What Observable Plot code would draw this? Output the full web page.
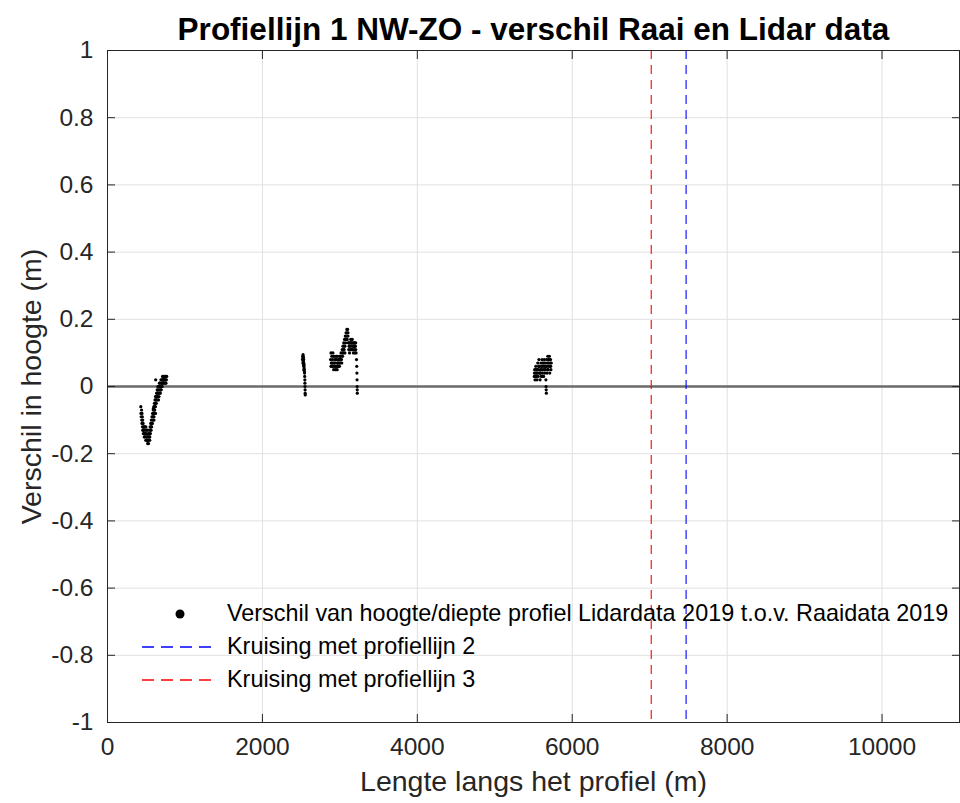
<!DOCTYPE html>
<html>
<head>
<meta charset="utf-8">
<script src="https://cdn.jsdelivr.net/npm/d3@7"></script>
<script src="https://cdn.jsdelivr.net/npm/@observablehq/plot@0.6"></script>
<style>
  html, body { margin: 0; padding: 0; background: #fff; }
  #wrap { position: relative; width: 960px; height: 803px; font-family: "Liberation Sans", Arial, sans-serif; }
  #legend { position: absolute; left: 120px; top: 597px; font-size: 23.4px; color: #000; }
  .row { display: flex; align-items: center; height: 33px; white-space: nowrap; }
  .sym { width: 107px; height: 33px; display: flex; align-items: center; }
</style>
</head>
<body>
<div id="wrap"></div>
<script>
// Data cluster 1 (around 430–765 m)
const x1 = [430,432,435,440,442,445,450,452,455,460,463,466,470,474,478,482,486,490,494,498,502,506,510,514,518,522,526,530,534,538,542,546,550,554,558,562,566,570,574,578,582,586,590,594,598,602,606,610,614,618,622,626,630,634,638,642,646,650,654,658,662,666,670,674,678,682,686,690,694,698,702,706,710,714,718,722,726,730,735,740,745,750,755,760,765,594,600,620,
  445,455,465,475,485,495,505,515,525,535,545,555,565,575,585,595,605,615,625,635,645,655,665,675,685,695,705,715,725,745,755,600,610,620];
const y1 = [-0.06,-0.08,-0.09,-0.07,-0.10,-0.11,-0.09,-0.12,-0.13,-0.11,-0.14,-0.12,-0.13,-0.15,-0.14,-0.12,-0.15,-0.13,-0.16,-0.14,-0.15,-0.13,-0.16,-0.15,-0.17,-0.16,-0.14,-0.17,-0.16,-0.15,-0.13,-0.15,-0.12,-0.14,-0.11,-0.13,-0.10,-0.12,-0.09,-0.11,-0.08,-0.10,-0.07,-0.09,-0.06,-0.08,-0.05,-0.07,-0.04,-0.06,0.02,-0.03,-0.05,-0.02,-0.04,-0.01,-0.03,0.00,-0.02,-0.04,0.00,-0.02,0.01,-0.01,0.01,-0.02,0.00,0.02,-0.01,0.01,0.02,0.00,0.03,0.01,0.02,0.03,0.01,0.02,0.03,0.02,0.03,0.02,0.03,0.02,0.03,-0.065,-0.10,-0.03,
  -0.08,-0.10,-0.13,-0.12,-0.14,-0.12,-0.16,-0.13,-0.15,-0.14,-0.16,-0.13,-0.12,-0.11,-0.09,-0.08,-0.07,-0.05,-0.04,-0.03,-0.02,-0.01,-0.03,0.00,-0.01,0.00,0.01,0.02,0.02,0.01,0.01,-0.09,-0.06,-0.08];
// Data cluster 2a (around 2518–2553 m)
const x2 = [2520,2522,2525,2528,2530,2532,2535,2538,2540,2542,2544,2546,2548,2549,2550,2551,2552,2553,2525,2530,2534,2538,2518,2523,2527,2533,2536];
const y2 = [0.09,0.085,0.08,0.075,0.07,0.065,0.06,0.055,0.05,0.045,0.04,0.03,0.02,0.01,0.00,-0.01,-0.02,-0.025,0.095,0.085,0.07,0.065,0.08,0.07,0.09,0.08,0.05];
// Data cluster 2b (around 2880–3225 m)
const x3 = [2880,2885,2890,2895,2900,2905,2910,2915,2920,2925,2930,2935,2940,2945,2950,2955,2960,2965,2970,2975,2980,2985,2990,2995,3000,3005,3010,3015,3020,3025,3030,3035,3040,3045,3050,3055,3060,3065,3070,3075,3080,3085,3090,3095,3100,3105,3110,3115,3120,3125,3130,3135,3140,3145,3150,3155,3160,3165,3170,3175,3180,3185,3190,3195,3200,3205,3210,3215,3218,3220,3222,3223,3224,3225,
  2885,2895,2905,2915,2925,2935,2945,2955,2965,2975,2985,2995,3005,3015,3025,3035,3045,3055,3065,3075,3085,3095,3105,3115,3125,3135,3145,3155,3165,3175,3185,3195,3205];
const y3 = [0.08,0.10,0.07,0.09,0.06,0.08,0.10,0.07,0.05,0.09,0.06,0.08,0.07,0.05,0.09,0.06,0.08,0.07,0.06,0.09,0.07,0.06,0.08,0.07,0.09,0.07,0.08,0.10,0.08,0.09,0.11,0.09,0.12,0.10,0.13,0.11,0.14,0.12,0.15,0.13,0.16,0.14,0.17,0.16,0.17,0.15,0.13,0.11,0.12,0.10,0.13,0.11,0.14,0.12,0.13,0.11,0.14,0.12,0.13,0.10,0.12,0.11,0.13,0.10,0.12,0.11,0.10,0.08,0.06,0.04,0.02,0.00,-0.01,-0.02,
  0.06,0.07,0.06,0.09,0.07,0.06,0.08,0.09,0.05,0.07,0.08,0.06,0.09,0.08,0.07,0.10,0.11,0.12,0.10,0.14,0.15,0.14,0.16,0.13,0.12,0.13,0.11,0.13,0.11,0.12,0.13,0.12,0.13];
// Data cluster 3 (around 5510–5730 m)
const x4 = [5510,5515,5520,5525,5530,5535,5540,5545,5550,5555,5560,5565,5570,5575,5580,5585,5590,5595,5600,5605,5610,5615,5620,5625,5630,5635,5640,5645,5650,5655,5660,5662,5664,5666,5665,5670,5675,5680,5685,5690,5695,5700,5705,5710,5715,5720,5725,5730,
  5512,5522,5532,5542,5552,5562,5572,5582,5592,5602,5612,5622,5632,5642,5652,5672,5682,5692,5702,5712,5722];
const y4 = [0.03,0.05,0.02,0.04,0.06,0.03,0.05,0.02,0.04,0.07,0.03,0.06,0.08,0.04,0.06,0.02,0.05,0.07,0.03,0.06,0.08,0.04,0.07,0.05,0.03,0.06,0.08,0.04,0.07,0.05,0.02,0.00,-0.01,-0.02,0.06,0.08,0.04,0.07,0.09,0.05,0.08,0.06,0.09,0.04,0.07,0.08,0.05,0.07,
  0.04,0.03,0.05,0.04,0.05,0.05,0.06,0.04,0.04,0.05,0.06,0.03,0.07,0.05,0.06,0.06,0.05,0.07,0.08,0.06,0.06];

const crossing2 = 7470; // Kruising met profiellijn 2
const crossing3 = 7020; // Kruising met profiellijn 3
const xTicks = [0, 2000, 4000, 6000, 8000, 10000];
const yTicks = [-1, -0.8, -0.6, -0.4, -0.2, 0, 0.2, 0.4, 0.6, 0.8, 1];

const titleText = "Profiellijn 1 NW-ZO - verschil Raai en Lidar data";
const xLabel = "Lengte langs het profiel (m)";
const yLabel = "Verschil in hoogte (m)";
const legendLabels = [
  "Verschil van hoogte/diepte profiel Lidardata 2019 t.o.v. Raaidata 2019",
  "Kruising met profiellijn 2",
  "Kruising met profiellijn 3"
];

const points = [
  ...x1.map((x, i) => ({x, y: y1[i]})),
  ...x2.map((x, i) => ({x, y: y2[i]})),
  ...x3.map((x, i) => ({x, y: y3[i]})),
  ...x4.map((x, i) => ({x, y: y4[i]}))
];

const axisColor = "#262626";
const fmtY = d => d === 0 ? "0" : String(d);

const chart = Plot.plot({
  width: 960,
  height: 803,
  marginLeft: 107,
  marginRight: 1,
  marginTop: 50,
  marginBottom: 81,
  style: {fontFamily: "'Liberation Sans', Arial, sans-serif", background: "#fff"},
  x: {domain: [0, 11000]},
  y: {domain: [-1, 1]},
  marks: [
    Plot.gridX(xTicks, {stroke: "#e0e0e0", strokeOpacity: 1}),
    Plot.gridY(yTicks, {stroke: "#e0e0e0", strokeOpacity: 1}),
    Plot.ruleY([0], {stroke: "#6a6a6a", strokeWidth: 2.6}),
    Plot.dot(points, {x: "x", y: "y", r: 1.6, fill: "#000", stroke: null}),
    Plot.ruleX([crossing3], {stroke: "#ff0000", strokeWidth: 1.1, strokeDasharray: "9,6"}),
    Plot.ruleX([crossing2], {stroke: "#0000ff", strokeWidth: 1.1, strokeDasharray: "9,6"}),
    Plot.frame({stroke: axisColor, strokeWidth: 1}),
    // inward ticks
    Plot.axisX(xTicks, {anchor: "bottom", tickSize: -8, text: null, label: null, stroke: axisColor}),
    Plot.axisX(xTicks, {anchor: "top", tickSize: -8, text: null, label: null, stroke: axisColor}),
    Plot.axisY(yTicks, {anchor: "left", tickSize: -8, text: null, label: null, stroke: axisColor}),
    Plot.axisY(yTicks, {anchor: "right", tickSize: -8, text: null, label: null, stroke: axisColor}),
    // tick labels
    Plot.axisX(xTicks, {anchor: "bottom", tickSize: 0, tickPadding: 15, label: null, fontSize: 24.5, fill: axisColor, tickFormat: d => String(d)}),
    Plot.axisY(yTicks, {anchor: "left", tickSize: 0, tickPadding: 14, label: null, fontSize: 24.5, fill: axisColor, tickFormat: fmtY}),
    // labels & title
    Plot.text([xLabel], {frameAnchor: "bottom", lineAnchor: "middle", dy: 59, fontSize: 28.5, fill: axisColor, text: d => d}),
    Plot.text([yLabel], {frameAnchor: "left", lineAnchor: "middle", textAnchor: "middle", dx: -76, rotate: -90, fontSize: 28.5, fill: axisColor, text: d => d}),
    Plot.text([titleText], {frameAnchor: "top", lineAnchor: "middle", dy: -21, fontSize: 31.5, fontWeight: "bold", fill: "#000", text: d => d})
  ]
});

const wrap = document.getElementById("wrap");
wrap.appendChild(chart);

// Legend (no box), overlaid inside the plot area
const legend = document.createElement("div");
legend.id = "legend";
const sw = (inner) => `<svg width="100" height="33">${inner}</svg>`;
const syms = [
  sw(`<circle cx="60" cy="17" r="4.5" fill="#000"/>`),
  sw(`<line x1="22" x2="95" y1="17" y2="17" stroke="#0000ff" stroke-width="1.3" stroke-dasharray="12,7"/>`),
  sw(`<line x1="22" x2="95" y1="17" y2="17" stroke="#ff0000" stroke-width="1.3" stroke-dasharray="12,7"/>`)
];
legend.innerHTML = legendLabels.map((t, i) => `<div class="row"><div class="sym">${syms[i]}</div><span>${t}</span></div>`).join("");
wrap.appendChild(legend);
</script>
</body>
</html>
